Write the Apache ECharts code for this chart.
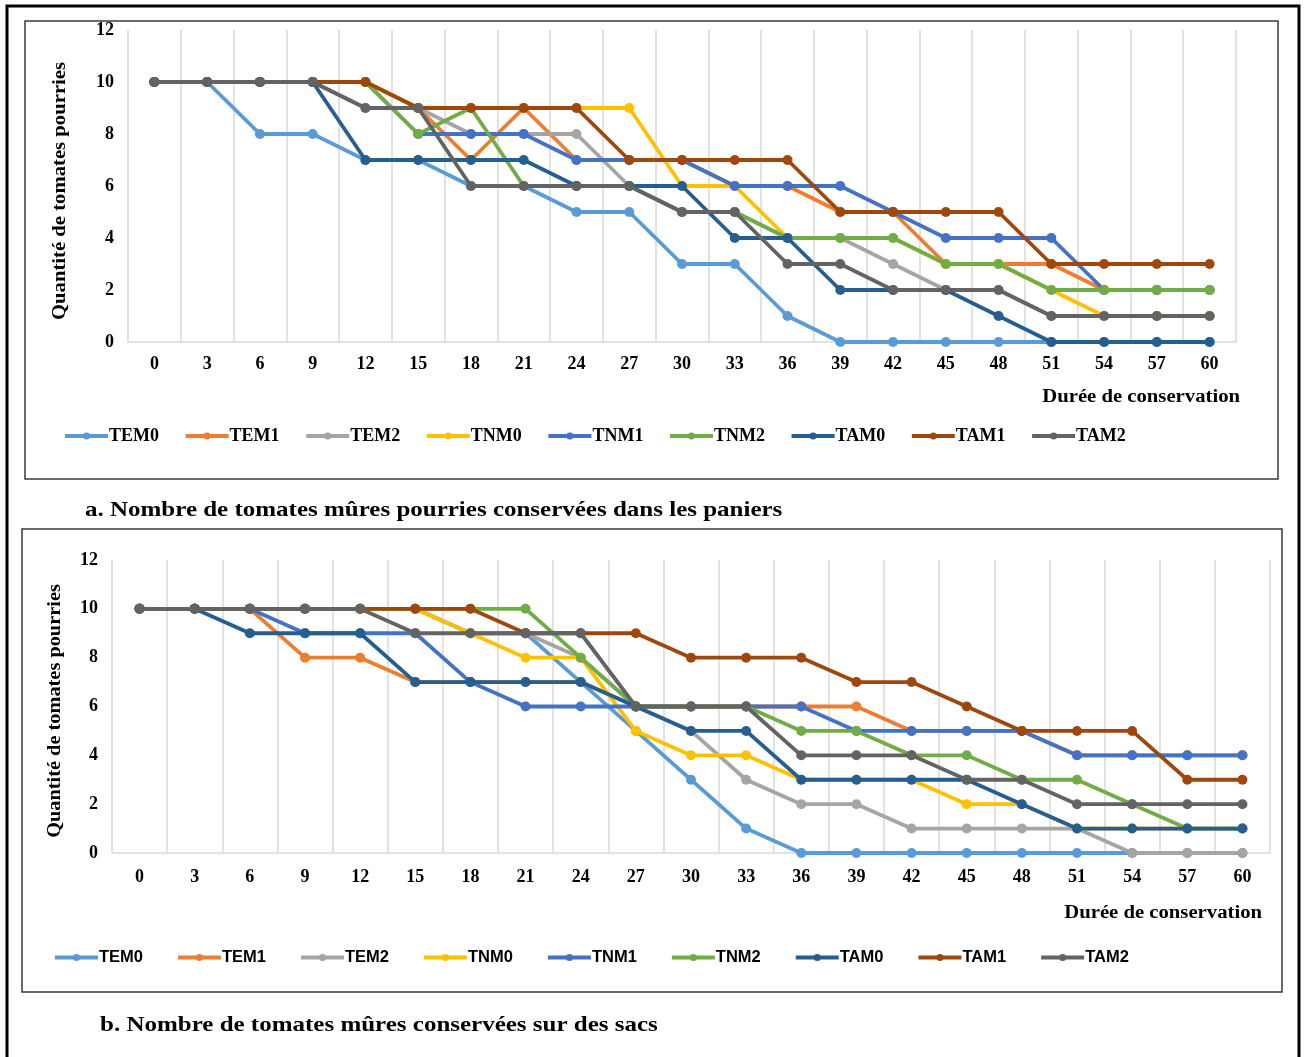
<!DOCTYPE html>
<html>
<head>
<meta charset="utf-8">
<script src="https://cdn.jsdelivr.net/npm/echarts@6/dist/echarts.min.js"></script>
<style>
html,body{margin:0;padding:0;background:#fff;}
#c{width:1306px;height:1057px;}
</style>
</head>
<body>
<div id="c"></div>
<script>
// ---- categories (days) ----
const days = ['0','3','6','9','12','15','18','21','24','27','30','33','36','39','42','45','48','51','54','57','60'];
const seriesNames = ['TEM0','TEM1','TEM2','TNM0','TNM1','TNM2','TAM0','TAM1','TAM2'];
const yTicks = [0,2,4,6,8,10,12];

// ---- panel a : paniers ----
const a_TEM0 = [10,10,8,8,7,7,6,6,5,5,3,3,1,0,0,0,0,0,0,0,0];
const a_TEM1 = [10,10,10,10,10,9,7,9,7,7,7,6,6,5,5,3,3,3,2,2,2];
const a_TEM2 = [10,10,10,10,9,9,8,8,8,6,5,5,4,4,3,2,2,1,1,1,1];
const a_TNM0 = [10,10,10,10,10,9,9,9,9,9,6,6,4,4,4,3,3,2,1,1,1];
const a_TNM1 = [10,10,10,10,10,8,8,8,7,7,7,6,6,6,5,4,4,4,2,2,2];
const a_TNM2 = [10,10,10,10,10,8,9,6,6,6,5,5,4,4,4,3,3,2,2,2,2];
const a_TAM0 = [10,10,10,10,7,7,7,7,6,6,6,4,4,2,2,2,1,0,0,0,0];
const a_TAM1 = [10,10,10,10,10,9,9,9,9,7,7,7,7,5,5,5,5,3,3,3,3];
const a_TAM2 = [10,10,10,10,9,9,6,6,6,6,5,5,3,3,2,2,2,1,1,1,1];

// ---- panel b : sacs ----
const b_TEM0 = [10,10,10,10,10,10,9,9,7,5,3,1,0,0,0,0,0,0,0,0,0];
const b_TEM1 = [10,10,10,8,8,7,7,7,7,6,6,6,6,6,5,5,5,4,4,4,4];
const b_TEM2 = [10,10,10,10,10,10,9,9,8,6,5,3,2,2,1,1,1,1,0,0,0];
const b_TNM0 = [10,10,10,10,10,10,9,8,8,5,4,4,3,3,3,2,2,1,1,1,1];
const b_TNM1 = [10,10,10,9,9,9,7,6,6,6,6,6,6,5,5,5,5,4,4,4,4];
const b_TNM2 = [10,10,10,10,10,10,10,10,8,6,6,6,5,5,4,4,3,3,2,1,1];
const b_TAM0 = [10,10,9,9,9,7,7,7,7,6,5,5,3,3,3,3,2,1,1,1,1];
const b_TAM1 = [10,10,10,10,10,10,10,9,9,9,8,8,8,7,7,6,5,5,5,3,3];
const b_TAM2 = [10,10,10,10,10,9,9,9,9,6,6,6,4,4,4,3,3,2,2,2,2];

const colors = ['#5B9BD5','#ED7D31','#A5A5A5','#FFC000','#4472C4','#70AD47','#255E91','#9E480E','#636363'];
const aData = [a_TEM0,a_TEM1,a_TEM2,a_TNM0,a_TNM1,a_TNM2,a_TAM0,a_TAM1,a_TAM2];
const bData = [b_TEM0,b_TEM1,b_TEM2,b_TNM0,b_TNM1,b_TNM2,b_TAM0,b_TAM1,b_TAM2];

const serif = '"Liberation Serif","Times New Roman",serif';
const sans = '"Liberation Sans",Arial,sans-serif';

function mkSeries(dataArr, idx){
  return dataArr.map((d,i)=>({
    name: seriesNames[i], type:'line', xAxisIndex:idx, yAxisIndex:idx,
    data:d, symbol:'circle', symbolSize:10,
    lineStyle:{width:3.8,color:colors[i]}, itemStyle:{color:colors[i]},
    animation:false, z:2+i
  }));
}

function xAx(idx, margin){
  return {type:'category', gridIndex:idx, data:days, boundaryGap:true,
    axisLine:{lineStyle:{color:'#D9D9D9',width:1.5}}, axisTick:{show:false},
    splitLine:{show:true,lineStyle:{color:'#D9D9D9',width:1.5}},
    axisLabel:{color:'#000',fontFamily:serif,fontWeight:'bold',fontSize:18,margin:margin,interval:0}};
}
function yAx(idx){
  return {type:'value', gridIndex:idx, min:0, max:12, interval:2,
    axisLine:{show:false}, axisTick:{show:false}, splitLine:{show:false},
    axisLabel:{color:'#000',fontFamily:serif,fontWeight:'bold',fontSize:18,margin:14}};
}

const chart = echarts.init(document.getElementById('c'), null, {renderer:'canvas'});
chart.setOption({
  animation:false,
  backgroundColor:'#fff',
  grid:[
    {left:128, top:30, width:1108, height:312},
    {left:112, top:560, width:1158, height:293}
  ],
  xAxis:[xAx(0,13), xAx(1,15)],
  yAxis:[yAx(0), yAx(1)],
  legend:[
    {data:seriesNames, left:58, top:422, itemWidth:43, itemHeight:9, itemGap:24.6,
     selectedMode:false, lineStyle:{width:4},
     textStyle:{fontFamily:serif,fontWeight:'bold',fontSize:18,color:'#000',width:60,padding:[0,0,0,-4]}},
    {data:seriesNames, left:48, top:944, itemWidth:43, itemHeight:9, itemGap:33,
     selectedMode:false, lineStyle:{width:4},
     textStyle:{fontFamily:sans,fontWeight:'bold',fontSize:16.5,color:'#000',width:60,padding:[0,0,0,-4]}}
  ],
  series:[...mkSeries(aData,0), ...mkSeries(bData,1)],
  graphic:[
    {type:'rect', shape:{x:7,y:6,width:1292,height:1060}, style:{fill:'none',stroke:'#000',lineWidth:3}, silent:true},
    {type:'rect', shape:{x:25,y:21,width:1253,height:458}, style:{fill:'none',stroke:'#3a3a3a',lineWidth:1.5}, silent:true},
    {type:'rect', shape:{x:22,y:529,width:1260,height:463}, style:{fill:'none',stroke:'#3a3a3a',lineWidth:1.5}, silent:true},
    {type:'text', x:60, y:191, rotation:Math.PI/2, scaleX:1.15,
     style:{text:'Quantité de tomates pourries', font:'bold 18px '+serif, fill:'#000', textAlign:'center', textVerticalAlign:'middle'}},
    {type:'text', x:55, y:711, rotation:Math.PI/2, scaleX:1.13,
     style:{text:'Quantité de tomates pourries', font:'bold 18px '+serif, fill:'#000', textAlign:'center', textVerticalAlign:'middle'}},
    {type:'text', x:1240, y:397, scaleX:1.15,
     style:{text:'Durée de conservation', font:'bold 18px '+serif, fill:'#000', textAlign:'right', textVerticalAlign:'middle'}},
    {type:'text', x:1262, y:913, scaleX:1.15,
     style:{text:'Durée de conservation', font:'bold 18px '+serif, fill:'#000', textAlign:'right', textVerticalAlign:'middle'}},
    {type:'text', x:85, y:511, scaleX:1.19,
     style:{text:'a. Nombre de tomates mûres pourries conservées dans les paniers', font:'bold 21px '+serif, fill:'#000', textAlign:'left', textVerticalAlign:'middle'}},
    {type:'text', x:100, y:1026, scaleX:1.19,
     style:{text:'b. Nombre de tomates mûres conservées sur des sacs', font:'bold 21px '+serif, fill:'#000', textAlign:'left', textVerticalAlign:'middle'}}
  ]
});
</script>
</body>
</html>
